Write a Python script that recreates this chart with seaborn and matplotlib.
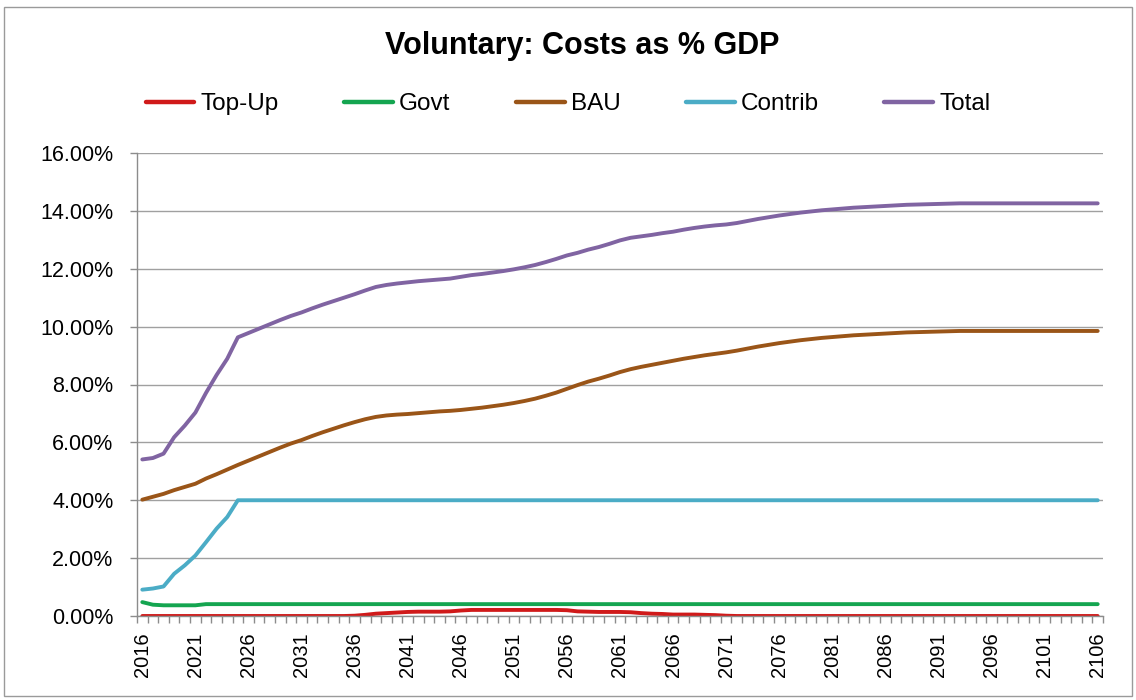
import numpy as np
import pandas as pd
import matplotlib
matplotlib.use("Agg")
import matplotlib.pyplot as plt
from matplotlib.ticker import PercentFormatter, FixedLocator
from matplotlib.patches import Rectangle
import seaborn as sns

# ---- data (% of GDP, one value per year 2016..2106) ----
years = list(range(2016, 2107))

top_up = ([0.0] * 20 +
          [0.01, 0.04, 0.08, 0.10, 0.12, 0.14, 0.15, 0.15, 0.15, 0.16,
           0.19, 0.21, 0.21, 0.21, 0.21, 0.21, 0.21, 0.21, 0.21, 0.21,
           0.20, 0.16, 0.15, 0.14, 0.14, 0.14, 0.13, 0.10, 0.08, 0.07,
           0.05, 0.05, 0.05, 0.04, 0.03, 0.01] +
          [0.0] * 35)

govt = [0.48, 0.39] + [0.37] * 4 + [0.41] * 85

contrib = [0.91, 0.95, 1.02, 1.46, 1.75, 2.09, 2.55, 3.02, 3.42] + [4.0] * 82

bau = [4.02, 4.12, 4.22, 4.35, 4.46, 4.57, 4.75, 4.90, 5.06, 5.22,
       5.37, 5.52, 5.67, 5.82, 5.96, 6.08, 6.22, 6.35, 6.47, 6.59,
       6.70, 6.80, 6.88, 6.93, 6.96, 6.98, 7.01, 7.04, 7.07, 7.09,
       7.12, 7.16, 7.20, 7.25, 7.30, 7.36, 7.43, 7.51, 7.61, 7.72,
       7.85, 7.98, 8.10, 8.20, 8.31, 8.43, 8.53, 8.61, 8.68, 8.75,
       8.82, 8.89, 8.95, 9.01, 9.06, 9.11, 9.17, 9.24, 9.31, 9.37,
       9.43, 9.48, 9.53, 9.57, 9.61, 9.64, 9.67, 9.70, 9.72, 9.74,
       9.76, 9.78, 9.80, 9.81, 9.82, 9.83, 9.84, 9.85] + [9.85] * 13

total = [5.41, 5.46, 5.61, 6.18, 6.58, 7.03, 7.71, 8.33, 8.89, 9.63,
         9.78, 9.93, 10.08, 10.23, 10.37, 10.49, 10.63, 10.76, 10.88, 11.00,
         11.12, 11.25, 11.37, 11.44, 11.49, 11.53, 11.57, 11.60, 11.63, 11.66,
         11.72, 11.78, 11.82, 11.87, 11.92, 11.98, 12.05, 12.13, 12.23, 12.34,
         12.46, 12.55, 12.66, 12.75, 12.86, 12.98, 13.07, 13.12, 13.17, 13.23,
         13.28, 13.35, 13.41, 13.46, 13.50, 13.53, 13.58, 13.65, 13.72, 13.78,
         13.84, 13.89, 13.94, 13.98, 14.02, 14.05, 14.08, 14.11, 14.13, 14.15,
         14.17, 14.19, 14.21, 14.22, 14.23, 14.24, 14.25] + [14.26] * 14

series_names = ["Top-Up", "Govt", "BAU", "Contrib", "Total"]
series_values = [top_up, govt, bau, contrib, total]
series_colors = ["#D01A1A", "#14A550", "#9A5518", "#4BACC6", "#8064A2"]

x_labels = list(range(2016, 2107, 5))
y_ticks = [0, 2, 4, 6, 8, 10, 12, 14, 16]

df = pd.concat(
    [pd.DataFrame({"Year": years, "Value": vals, "Series": name})
     for name, vals in zip(series_names, series_values)],
    ignore_index=True,
)

# ---- figure ----
sns.set_theme(style="white")
plt.rcParams["font.family"] = ["Liberation Sans", "DejaVu Sans"]
plt.rcParams["text.color"] = "black"

W, H = 1136, 700
fig = plt.figure(figsize=(W / 100, H / 100), dpi=100)
fig.patch.set_facecolor("white")
fig.add_artist(Rectangle((4 / W, 4 / H), 1 - 8 / W, 1 - 11 / H,
                         transform=fig.transFigure, fill=False,
                         edgecolor="#9a9a9a", linewidth=1.0))

ax = fig.add_axes([137 / W, 1 - 616 / H, (1103 - 137) / W, (616 - 153) / H])

sns.lineplot(data=df, x="Year", y="Value", hue="Series",
             hue_order=series_names, palette=series_colors,
             linewidth=2.8, ax=ax, legend=False)

ax.set_xlim(2015.5, 2106.5)
ax.set_ylim(0, 16)
ax.set_xlabel("")
ax.set_ylabel("")

ax.yaxis.set_major_locator(FixedLocator(y_ticks))
ax.yaxis.set_major_formatter(PercentFormatter(xmax=100, decimals=2))
ax.set_xticks(x_labels)
ax.set_xticklabels([str(v) for v in x_labels], rotation=90)
ax.xaxis.set_minor_locator(FixedLocator(np.arange(2015.5, 2107, 1.0)))

ax.grid(axis="y", color="#a0a0a0", linewidth=1.0)
ax.set_axisbelow(True)

for side in ("top", "right"):
    ax.spines[side].set_visible(False)
for side in ("left", "bottom"):
    ax.spines[side].set_color("#8c8c8c")
    ax.spines[side].set_linewidth(1.0)

ax.tick_params(axis="y", which="major", left=True, length=5, width=1,
               color="#8c8c8c", direction="out", pad=12,
               labelsize=15.5, labelcolor="black")
ax.tick_params(axis="x", which="major", bottom=True, length=0, pad=12,
               labelsize=14.5, labelcolor="black")
ax.tick_params(axis="x", which="minor", bottom=True, length=5, width=1,
               color="#8c8c8c", direction="out")

fig.text(582 / W, 1 - 46 / H, "Voluntary: Costs as % GDP",
         ha="center", va="center", fontsize=22, fontweight="bold",
         color="black")

handles = [plt.Line2D([], [], color=c, linewidth=3.2) for c in series_colors]
fig.legend(handles, series_names, loc="center",
           bbox_to_anchor=(0.5, 1 - 104 / H), ncol=5, frameon=False,
           fontsize=17.5, handlelength=2.0, handletextpad=0.25,
           columnspacing=2.7, labelcolor="black")

fig.savefig("out.png", dpi=100, facecolor="white")
